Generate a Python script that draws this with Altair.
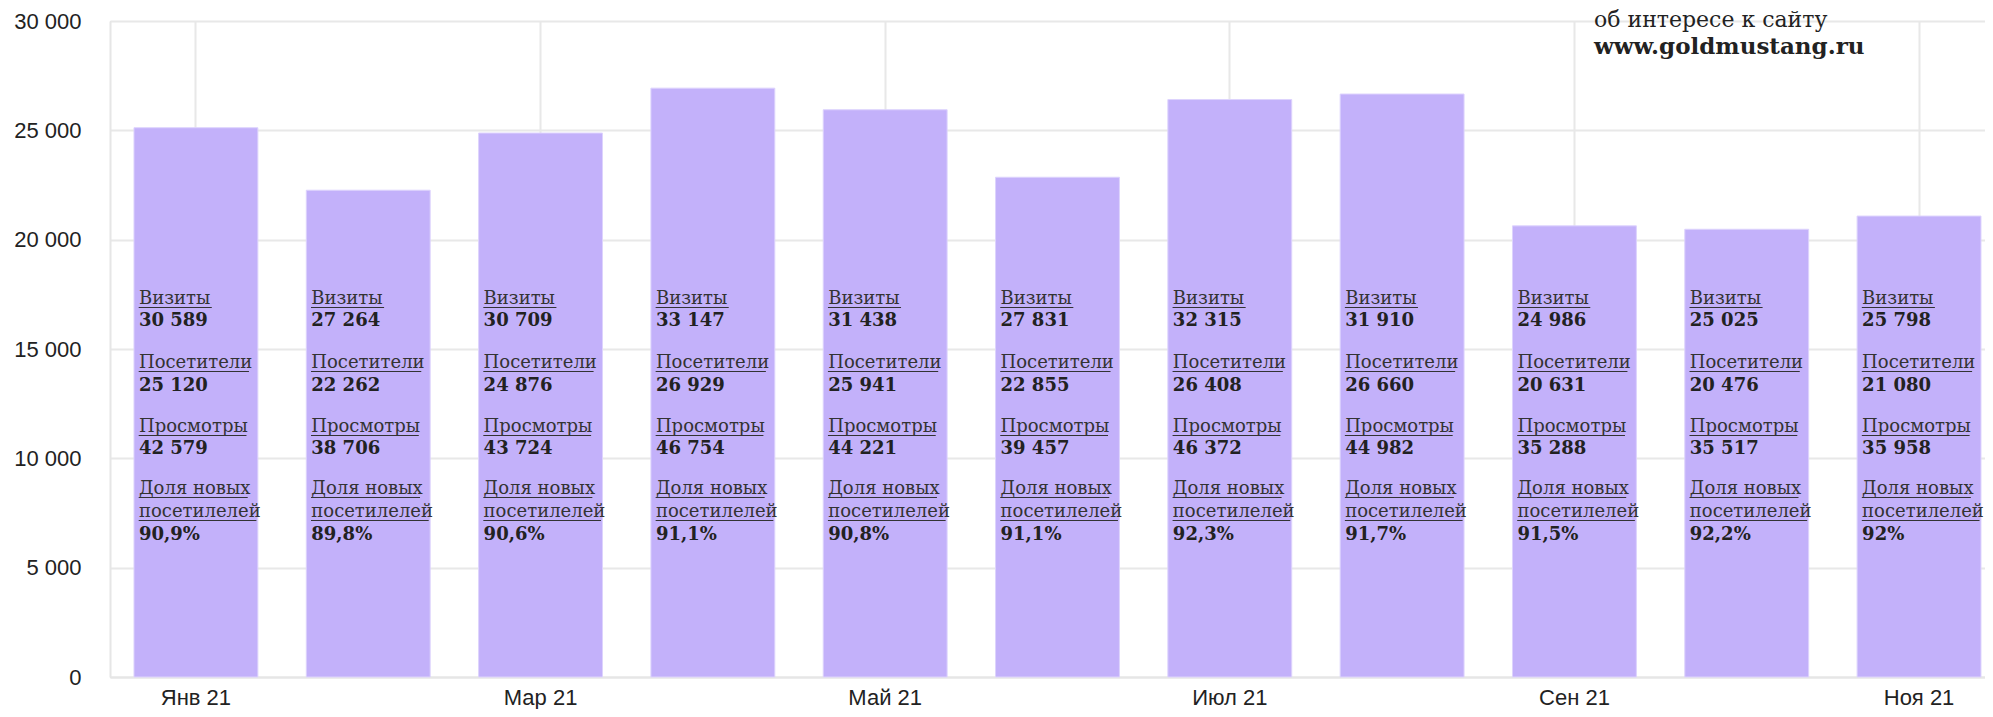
import altair as alt
import pandas as pd

months = ["Янв 21", "Фев 21", "Мар 21", "Апр 21", "Май 21", "Июн 21",
          "Июл 21", "Авг 21", "Сен 21", "Окт 21", "Ноя 21"]
tick_months = ["Янв 21", "Мар 21", "Май 21", "Июл 21", "Сен 21", "Ноя 21"]
visits = [30589, 27264, 30709, 33147, 31438, 27831, 32315, 31910, 24986, 25025, 25798]
visitors = [25120, 22262, 24876, 26929, 25941, 22855, 26408, 26660, 20631, 20476, 21080]
views = [42579, 38706, 43724, 46754, 44221, 39457, 46372, 44982, 35288, 35517, 35958]
new_share = ["90,9%", "89,8%", "90,6%", "91,1%", "90,8%", "91,1%", "92,3%", "91,7%", "91,5%", "92,2%", "92%"]
y_ticks = [0, 5000, 10000, 15000, 20000, 25000, 30000]
note_lines = ["об интересе к сайту", "www.goldmustang.ru"]


def fmt(n):
    return f"{n:,}".replace(",", " ")


df = pd.DataFrame({
    "month": months,
    "visitors": visitors,
    "visits_t": [fmt(v) for v in visits],
    "visitors_t": [fmt(v) for v in visitors],
    "views_t": [fmt(v) for v in views],
    "share_t": new_share,
    "l1": ["Визиты"] * len(months),
    "l2": ["Посетители"] * len(months),
    "l3": ["Просмотры"] * len(months),
    "l4": ["Доля новых"] * len(months),
    "l5": ["посетилелей"] * len(months),
})

x_axis = alt.Axis(
    values=tick_months, title=None, labelAngle=0, ticks=False,
    labelFont="Liberation Sans", labelFontSize=22, labelColor="#222222",
    labelPadding=10, grid=True, gridColor="#e8e8e8", gridWidth=2,
    domainColor="#e6e6e6", domainWidth=2,
)
# outer padding split unevenly so the last bar sits near the right edge
x_scale = alt.Scale(paddingInner=0.281, paddingOuter=0.0812, align=0.857)

base = alt.Chart(df)

bars = base.mark_bar(color="#c3b1fa", stroke="#ddd3fd", strokeWidth=1).encode(
    x=alt.X("month:N", sort=months, scale=x_scale, axis=x_axis),
    y=alt.Y(
        "visitors:Q",
        scale=alt.Scale(domain=[0, 30000], nice=False),
        axis=alt.Axis(
            values=y_ticks, title=None, ticks=False,
            labelExpr="replace(format(datum.value, ',d'), ',', ' ')",
            labelFont="Liberation Sans", labelFontSize=22, labelColor="#222222",
            labelPadding=29, gridColor="#e8e8e8", gridWidth=2,
            domainColor="#e6e6e6", domainWidth=2,
        ),
    ),
)

# (field, baseline px in plot, bold, underline length as share of bar width)
lines = [
    ("l1", 283, False, 0.59), ("visits_t", 305, True, None),
    ("l2", 347, False, 0.89), ("visitors_t", 370, True, None),
    ("l3", 411, False, 0.87), ("views_t", 433, True, None),
    ("l4", 473, False, 0.88), ("l5", 496, False, 0.95), ("share_t", 519, True, None),
]

start_pos = 0.038
layers = [bars]
for field, py, bold, ul in lines:
    layers.append(
        base.mark_text(
            align="left", baseline="alphabetic", dx=5,
            font="DejaVu Serif", fontSize=18,
            fontWeight="bold" if bold else "normal",
            color="#222222" if bold else "#333333",
        ).encode(
            x=alt.X("month:N", sort=months, scale=x_scale, axis=x_axis, bandPosition=0),
            y=alt.value(py),
            text=alt.Text(f"{field}:N"),
        )
    )
    if ul is not None:
        layers.append(
            base.mark_rule(color="#333333", strokeWidth=1).encode(
                x=alt.X("month:N", sort=months, scale=x_scale, axis=x_axis,
                        bandPosition=start_pos),
                x2=alt.X2("month:N", bandPosition=start_pos + ul),
                y=alt.value(py + 3.5),
            )
        )

note_df = pd.DataFrame({"t": note_lines, "w": ["normal", "bold"]})
note1 = alt.Chart(note_df).transform_filter(alt.datum.w == "normal").mark_text(
    align="left", baseline="alphabetic", font="DejaVu Serif", fontSize=22,
    color="#222222",
).encode(x=alt.value(1484), y=alt.value(6), text="t:N")
note2 = alt.Chart(note_df).transform_filter(alt.datum.w == "bold").mark_text(
    align="left", baseline="alphabetic", font="DejaVu Serif", fontSize=23,
    fontWeight="bold", color="#222222",
).encode(x=alt.value(1484), y=alt.value(33), text="t:N")
layers += [note1, note2]

chart = alt.layer(*layers).properties(
    width=1875, height=656,
    autosize=alt.AutoSizeParams(type="none"),
    padding={"left": 102, "top": 13, "right": 0, "bottom": 32},
).configure_view(stroke=None).configure(background="white")

chart.save("out.html", embed_options={"renderer": "svg", "actions": False})
